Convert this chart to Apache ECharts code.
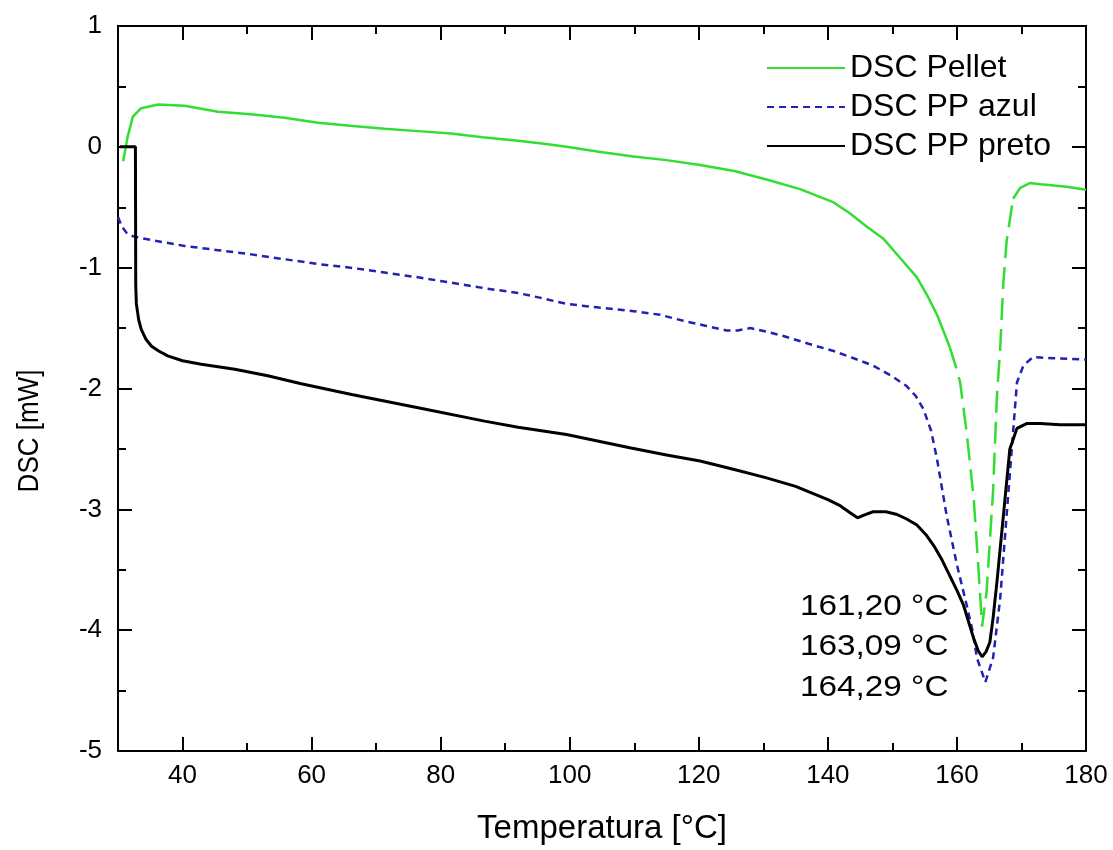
<!DOCTYPE html>
<html>
<head>
<meta charset="utf-8">
<script src="https://cdn.jsdelivr.net/npm/echarts@6/dist/echarts.min.js"></script>
<style>
html,body{margin:0;padding:0;background:#fff;}
#chart{width:1113px;height:850px;}
</style>
</head>
<body>
<div id="chart"></div>
<script>
// ---- Data ----
const tempPellet = [30.8, 31.5, 32.3, 33.6, 36.2, 40.3, 45.5, 50.6, 55.8, 61, 66, 71.3, 76.5, 81.6, 86.5, 92, 96, 99.5, 104.5, 109.9, 115, 120.2, 125.5, 130.5, 135.7, 140.9, 143.4, 146, 148.6, 151.2, 153.8, 155.5, 157, 158.9, 160, 160.5, 161.5, 162.6, 163.3, 163.9, 164.6, 165.6, 166.2, 166.7, 167.2, 167.7, 168.7, 169.8, 171.3, 173, 175, 177, 180];
const dscPellet  = [-0.12, 0.085, 0.25, 0.32, 0.35, 0.34, 0.29, 0.27, 0.24, 0.20, 0.175, 0.15, 0.13, 0.11, 0.08, 0.05, 0.025, 0.0, -0.04, -0.08, -0.11, -0.15, -0.2, -0.27, -0.35, -0.46, -0.55, -0.66, -0.76, -0.92, -1.08, -1.24, -1.40, -1.66, -1.85, -1.95, -2.36, -2.91, -3.46, -3.97, -3.68, -2.85, -2.06, -1.67, -1.12, -0.78, -0.43, -0.34, -0.30, -0.31, -0.32, -0.33, -0.355];

const tempAzul = [30, 30.6, 31.3, 32.3, 35, 40.3, 45.5, 50.7, 55.8, 61, 66, 71.3, 76.5, 81.7, 86.8, 92, 95.5, 99.5, 104.5, 109.9, 114, 117.6, 121, 124.3, 126, 128, 130.5, 133.1, 137, 140.9, 144, 147, 150, 152.2, 153.6, 154.8, 156, 156.9, 158.4, 160, 161.5, 162.4, 163.1, 164.4, 165.6, 166.7, 167.7, 168.5, 169.3, 170.3, 171.8, 175, 180];
const dscAzul  = [-0.58, -0.66, -0.71, -0.74, -0.77, -0.82, -0.855, -0.89, -0.93, -0.97, -1.0, -1.04, -1.08, -1.125, -1.17, -1.21, -1.25, -1.30, -1.33, -1.36, -1.39, -1.44, -1.48, -1.52, -1.52, -1.50, -1.53, -1.565, -1.63, -1.69, -1.75, -1.81, -1.90, -1.98, -2.06, -2.17, -2.35, -2.58, -3.05, -3.46, -3.79, -4.0, -4.23, -4.43, -4.23, -3.74, -3.05, -2.50, -1.95, -1.81, -1.74, -1.75, -1.76];

const tempPreto = [30.3, 32.7, 32.75, 32.85, 33.2, 33.6, 34.3, 35.2, 36.3, 37.7, 40, 42.9, 48.1, 53.2, 58.4, 66.2, 76.5, 86.8, 92, 99.5, 109.3, 115, 120.2, 125.5, 130.5, 135, 140, 141.9, 143.5, 144.6, 145.5, 147, 149, 150.6, 152.2, 153.8, 155.2, 156.4, 157.7, 158.9, 160, 161, 162.6, 163.3, 163.9, 164.5, 165.1, 165.6, 166.2, 167.2, 168.2, 169.3, 170.8, 172.9, 176, 180];
const dscPreto  = [0, 0, -1.15, -1.3, -1.43, -1.51, -1.59, -1.65, -1.69, -1.73, -1.77, -1.80, -1.84, -1.895, -1.96, -2.05, -2.16, -2.27, -2.32, -2.38, -2.49, -2.55, -2.60, -2.67, -2.74, -2.81, -2.92, -2.97, -3.03, -3.07, -3.05, -3.02, -3.02, -3.04, -3.08, -3.13, -3.21, -3.30, -3.42, -3.55, -3.67, -3.79, -4.07, -4.17, -4.22, -4.18, -4.10, -3.90, -3.60, -3.05, -2.50, -2.33, -2.29, -2.29, -2.30, -2.30];

const seriesNames = ['DSC Pellet', 'DSC PP azul', 'DSC PP preto'];
const peakLabels = ['161,20 °C', '163,09 °C', '164,29 °C'];
const xMajorTicks = [40, 60, 80, 100, 120, 140, 160, 180];
const xMinorTicks = [50, 70, 90, 110, 130, 150, 170];
const dashedFrom = 158.9, dashedTo = 168.7; // steep part of the pellet curve drawn dashed

// ---- Build series data ----
const pair = (xs, ys) => xs.map((x, i) => [x, ys[i]]);
const pelletAll = pair(tempPellet, dscPellet);
const pelletSolid = [];
pelletAll.forEach(p => { if (p[0] <= dashedFrom) pelletSolid.push(p); });
pelletSolid.push(null);
pelletAll.forEach(p => { if (p[0] >= dashedTo) pelletSolid.push(p); });
const pelletDashed = pelletAll.filter(p => p[0] >= dashedFrom && p[0] <= dashedTo);

const FONT = 'Liberation Sans';
const chart = echarts.init(document.getElementById('chart'), null, {renderer: 'canvas'});

const axisLineStyle = {color: '#000', width: 2};
const tickStyle = {color: '#000', width: 2};
const baseX = {type: 'value', min: 30, max: 180, splitLine: {show: false}};

const option = {
  backgroundColor: '#fff',
  animation: false,
  grid: {left: 118, right: 27, top: 26, bottom: 97},
  legend: {
    data: seriesNames,
    orient: 'vertical',
    left: 766,
    top: 52,
    padding: 0,
    itemWidth: 78,
    itemHeight: 14,
    itemGap: 7,
    itemStyle: {opacity: 0},
    textStyle: {fontSize: 32, fontFamily: FONT, color: '#000', lineHeight: 32}
  },
  xAxis: [
    Object.assign({}, baseX, {
      position: 'bottom',
      name: 'Temperatura [°C]',
      nameLocation: 'middle',
      nameGap: 61,
      nameTextStyle: {fontSize: 33, fontFamily: FONT, color: '#000'},
      axisLine: {show: true, onZero: false, lineStyle: axisLineStyle},
      axisTick: {show: true, inside: true, length: 14, customValues: xMajorTicks, lineStyle: tickStyle},
      axisLabel: {show: true, customValues: xMajorTicks, margin: 12, fontSize: 26, fontFamily: FONT, color: '#000'}
    }),
    Object.assign({}, baseX, {
      position: 'bottom',
      axisLine: {show: false, onZero: false},
      axisTick: {show: true, inside: true, length: 8, customValues: xMinorTicks, lineStyle: tickStyle},
      axisLabel: {show: false}
    }),
    Object.assign({}, baseX, {
      position: 'top',
      axisLine: {show: true, onZero: false, lineStyle: axisLineStyle},
      axisTick: {show: true, inside: true, length: 14, customValues: xMajorTicks, lineStyle: tickStyle},
      axisLabel: {show: false}
    }),
    Object.assign({}, baseX, {
      position: 'top',
      axisLine: {show: false, onZero: false},
      axisTick: {show: true, inside: true, length: 8, customValues: xMinorTicks, lineStyle: tickStyle},
      axisLabel: {show: false}
    })
  ],
  yAxis: [
    {
      type: 'value', min: -5, max: 1, interval: 1, position: 'left',
      splitLine: {show: false},
      axisLine: {show: true, onZero: false, lineStyle: axisLineStyle},
      axisTick: {show: true, inside: true, length: 14, lineStyle: tickStyle},
      minorTick: {show: true, splitNumber: 2, length: 8, lineStyle: tickStyle},
      axisLabel: {margin: 16, fontSize: 26, fontFamily: FONT, color: '#000'}
    },
    {
      type: 'value', min: -5, max: 1, interval: 1, position: 'right',
      splitLine: {show: false},
      axisLine: {show: true, onZero: false, lineStyle: axisLineStyle},
      axisTick: {show: true, inside: true, length: 14, lineStyle: tickStyle},
      minorTick: {show: true, splitNumber: 2, length: 8, lineStyle: tickStyle},
      axisLabel: {show: false}
    }
  ],
  series: [
    {
      name: seriesNames[0], type: 'line', symbol: 'none', connectNulls: false,
      data: pelletSolid,
      lineStyle: {color: '#33dd33', width: 2.5},
      itemStyle: {color: '#33dd33'}
    },
    {
      name: 'pellet-peak', type: 'line', symbol: 'none',
      data: pelletDashed,
      lineStyle: {color: '#33dd33', width: 2.5, type: [22, 9]},
      itemStyle: {color: '#33dd33'}
    },
    {
      name: seriesNames[1], type: 'line', symbol: 'none',
      data: pair(tempAzul, dscAzul),
      lineStyle: {color: '#2222b0', width: 2.5, type: [7, 5]},
      itemStyle: {color: '#2222b0'}
    },
    {
      name: seriesNames[2], type: 'line', symbol: 'none',
      data: pair(tempPreto, dscPreto),
      lineStyle: {color: '#000', width: 3},
      itemStyle: {color: '#000'}
    }
  ],
  graphic: [
    {type: 'text', x: 30, y: 431, rotation: Math.PI / 2, scaleY: 1.14,
     style: {text: 'DSC [mW]', fontSize: 26, fontFamily: FONT, fill: '#000', align: 'center', verticalAlign: 'middle'}},
    {type: 'text', x: 800, y: 607, scaleX: 1.11,
     style: {text: peakLabels[0], fontSize: 30, fontFamily: FONT, fill: '#000', align: 'left', verticalAlign: 'middle'}},
    {type: 'text', x: 800, y: 647, scaleX: 1.11,
     style: {text: peakLabels[1], fontSize: 30, fontFamily: FONT, fill: '#000', align: 'left', verticalAlign: 'middle'}},
    {type: 'text', x: 800, y: 688, scaleX: 1.11,
     style: {text: peakLabels[2], fontSize: 30, fontFamily: FONT, fill: '#000', align: 'left', verticalAlign: 'middle'}}
  ]
};
chart.setOption(option);
</script>
</body>
</html>
